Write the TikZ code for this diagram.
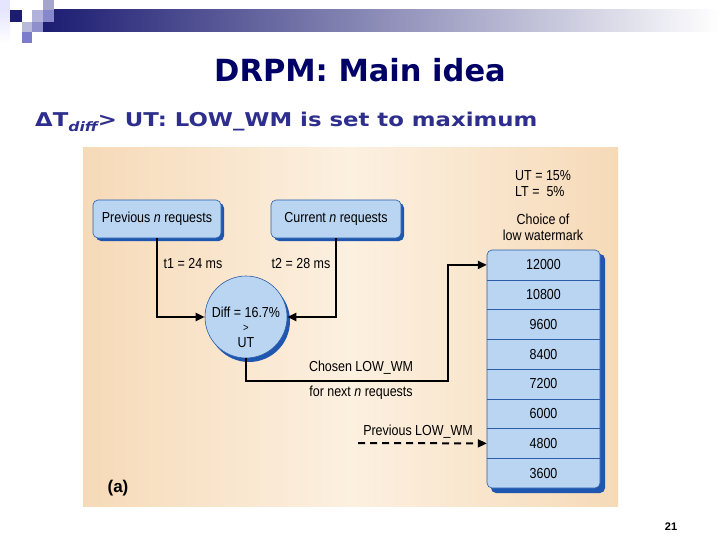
\documentclass[tikz,border=0pt]{standalone}
\usepackage{fontspec}
\setmainfont{Liberation Sans}
\newfontfamily\nar[FakeStretch=0.86]{Liberation Sans}
\newfontfamily\wide{DejaVu Sans}
\newfontfamily\wider[FakeStretch=1.2]{DejaVu Sans}
\usetikzlibrary{arrows.meta}
\definecolor{navy}{HTML}{000066}
\definecolor{subnavy}{HTML}{2E2E8E}
\definecolor{barnavy}{HTML}{1C1C72}
\definecolor{boxfill}{HTML}{B9D5F2}
\definecolor{boxdraw}{HTML}{2B5DA8}
\definecolor{boxshadow}{HTML}{1E56B0}
\definecolor{peach}{HTML}{F6DAB8}
\definecolor{cream}{HTML}{FCF0E0}
\begin{document}
\begin{tikzpicture}[x=1pt,y=-1pt,
  lbl/.style={font=\nar\fontsize{14.5}{16}\selectfont, inner sep=0pt, text=black},
  reqbox/.style={draw=boxdraw, fill=boxfill, rounded corners=5pt, line width=0.6pt, lbl},
  rowbox/.style={minimum width=113pt, minimum height=29.75pt, inner sep=0pt, lbl},
  conn/.style={line width=2pt, -{Triangle[length=9pt,width=8pt]}},
  sq/.style={draw=none}
  ]
\useasboundingbox (0,0) rectangle (720,540);
\fill[white] (0,0) rectangle (720,540);
% header decoration
\shade[left color=barnavy, right color=white] (43,10) rectangle (720,32);
\shade[top color=white!90!blue, bottom color=white] (0,10) rectangle (10,43);
\fill[white!90!blue] (0,0) rectangle (10,10);
\fill[barnavy] (10,10) rectangle (22,22);
\fill[white!75!blue!60!gray] (43,0) rectangle (54,10);
\fill[white!78!blue!70!gray] (32,10) rectangle (43,22);
\fill[white!55!blue!60!gray] (43,10) rectangle (54,22);
\fill[white!82!blue!70!gray] (22,22) rectangle (32,32);
\fill[white!60!blue!60!gray] (32,22) rectangle (43,32);
\fill[white!48!blue!60!gray] (22,32) rectangle (32,43);
% titles
\node[font=\wide\bfseries\fontsize{30.5}{34}\selectfont, text=navy, inner sep=0pt, anchor=base] (title) at (360,82) {DRPM: Main idea};
\node[font=\wider\bfseries\fontsize{19}{22}\selectfont, text=subnavy, anchor=base west, inner sep=0pt] (subtitle) at (35,127)
  {ΔT\raisebox{-0.45ex}{\fontsize{13}{15}\selectfont\itshape diff}> UT: LOW\_WM is set to maximum};
% diagram background
\shade[left color=peach, right color=peach, middle color=cream] (83,148) rectangle (618,506);
% request boxes
\fill[boxshadow, rounded corners=5pt] (96,203) rectangle (224,241);
\node[reqbox, minimum width=128pt, minimum height=38pt] (pb) at (157,219) {Previous \textit{n} requests};
\fill[boxshadow, rounded corners=5pt] (274,203) rectangle (404,241);
\node[reqbox, minimum width=130pt, minimum height=38pt] (cb) at (336,219) {Current \textit{n} requests};
% diff circle
\fill[boxshadow] (249,321) circle (41);
\node[circle, draw=boxdraw, fill=boxfill, line width=0.6pt, minimum size=82pt, inner sep=0pt] (diff) at (246,317) {};
\node[lbl, align=center, font=\nar\fontsize{14.5}{15.5}\selectfont] (difftext) at (246,327) {Diff = 16.7\%\\[-1pt]{\fontsize{11}{12}\selectfont >}\\UT};
% watermark column
\fill[boxshadow, rounded corners=5pt] (491,254) rectangle (605,493);
\draw[draw=boxdraw, fill=boxfill, rounded corners=5pt, line width=0.6pt] (487,250) rectangle (600,488);
\node[rowbox] (r1) at (543.5,264.9) {12000};
\node[rowbox] (r2) at (543.5,294.65) {10800};
\node[rowbox] (r3) at (543.5,324.4) {9600};
\node[rowbox] (r4) at (543.5,354.15) {8400};
\node[rowbox] (r5) at (543.5,383.9) {7200};
\node[rowbox] (r6) at (543.5,413.65) {6000};
\node[rowbox] (r7) at (543.5,443.4) {4800};
\node[rowbox] (r8) at (543.5,473.15) {3600};
\foreach \r in {r1,r2,r3,r4,r5,r6,r7}
  \draw[boxdraw, line width=0.6pt] (\r.south west) -- (\r.south east);
% labels
\node[lbl] (t1) at (193,264) {t1 = 24 ms};
\node[lbl] (t2) at (301,264) {t2 = 28 ms};
\node[lbl] (chosen) at (361,368) {Chosen LOW\_WM};
\node[lbl] (fornext) at (361,393) {for next \textit{n} requests};
\node[lbl] (prevwm) at (418,432) {Previous LOW\_WM};
\node[lbl, anchor=west] (ut) at (515,176) {UT = 15\%};
\node[lbl, anchor=west] (lt) at (515,192) {LT = \ 5\%};
\node[lbl] (choice) at (543,219) {Choice of};
\node[lbl] (loww) at (543,235) {low watermark};
\node[lbl, font=\bfseries\fontsize{17}{20}\selectfont] (a) at (118,488) {(a)};
% connectors
\draw[conn] (pb.south) |- (diff.west);
\draw[conn] (cb.south) |- (diff.east);
\coordinate (bend) at (448,381);
\draw[conn] (diff.south) |- (bend) |- (r1.west);
\coordinate (pwm) at (358,443);
\draw[conn, dashed, dash pattern=on 7pt off 5pt] (pwm) -- (r7.west);
% page number
\node[font=\bfseries\fontsize{11}{13}\selectfont] (pg) at (671,527) {21};
\end{tikzpicture}
\end{document}
